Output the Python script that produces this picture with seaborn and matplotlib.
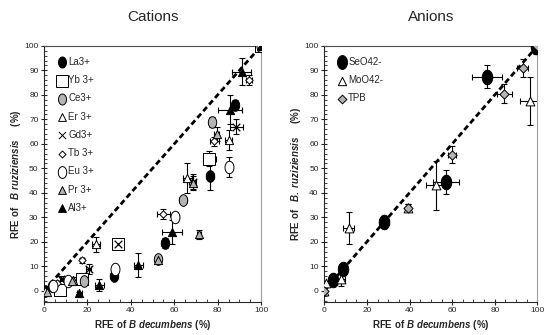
import matplotlib
matplotlib.use("Agg")
import matplotlib.pyplot as plt
import seaborn as sns
import numpy as np
import pandas as pd
from matplotlib.path import Path
from matplotlib.ticker import MultipleLocator

sns.set_style("ticks")
plt.rcParams['font.family'] = ['Liberation Sans', 'DejaVu Sans']
plt.rcParams['mathtext.fontset'] = 'custom'
plt.rcParams['mathtext.it'] = 'Liberation Sans:italic:bold'
plt.rcParams['mathtext.rm'] = 'Liberation Sans:bold'

# ---------------- Cations data ----------------
la_x = [0.5, 32, 55.5, 76.5, 88, 100]
la_y = [0, 6, 19.5, 47, 76, 100]
la_xe = [0, 1.5, 1.5, 2, 1.5, 0.5]
la_ye = [0, 1, 2, 6, 2, 1]

yb_x = [7.5, 17.5, 34, 76, 100]
yb_y = [0.5, 5, 19, 54, 100]
yb_xe = [2, 1, 2, 3, 0.5]
yb_ye = [0.5, 1, 1, 3, 1]

ce_x = [3.5, 18.5, 52.5, 64, 77.5, 100]
ce_y = [2, 4, 13, 37, 69, 100]
ce_xe = [0.5, 1, 1, 2, 1, 0.5]
ce_ye = [0.5, 1, 1, 1, 2, 1]

er_x = [0.5, 13.5, 24, 66, 85, 100]
er_y = [0, 4.5, 19, 46, 61.5, 100]
er_xe = [0.5, 1, 2, 2, 1.5, 0.5]
er_ye = [0.5, 1, 3, 6, 4, 1]

gd_x = [8, 20.5, 34, 68.5, 88.5, 100]
gd_y = [5, 9, 19, 44.5, 67, 100]
gd_xe = [0.5, 1, 1.5, 1.5, 3, 0.5]
gd_ye = [1, 2, 1, 3, 3, 1]

tb_x = [6, 17.5, 55, 78.5, 94.5, 100]
tb_y = [3, 12.5, 31.5, 61, 86, 100]
tb_xe = [0.5, 1, 3, 2, 1.5, 0.5]
tb_ye = [0.5, 1, 2, 2, 2, 1]

eu_x = [4.3, 11, 32.5, 60.5, 85, 100]
eu_y = [2, 4, 9, 30, 50.5, 100]
eu_xe = [0.5, 1, 1, 1.5, 1, 0.5]
eu_ye = [0.5, 1, 1, 2, 4, 1]

pr_x = [1.2, 13, 52.5, 68.5, 71.5, 79.5, 100]
pr_y = [-0.5, 4, 12.5, 44, 23, 64, 100]
pr_xe = [0.5, 1, 1, 1, 1, 1, 0.5]
pr_ye = [0.5, 1, 1, 3, 2, 3, 1]

al_x = [16.3, 25.5, 43.5, 59, 85.5, 91, 100]
al_y = [-1, 2.5, 10.5, 24, 74, 89.5, 100]
al_xe = [1, 2, 2, 4.5, 5.5, 4.5, 0.5]
al_ye = [0.5, 2.5, 5, 5, 6, 5.5, 1]

# ---------------- Anions data ----------------
se_x = [4.2, 9, 28, 57, 76.5, 99.5]
se_y = [4.5, 9, 28, 44.5, 87.5, 99.5]
se_xe = [1, 1.5, 2.5, 6, 7, 2]
se_ye = [1, 1.5, 2.5, 5, 4.5, 3]

mo_x = [0, 0.8, 7.8, 11.5, 39.5, 52.5, 96.5]
mo_y = [0, 3, 5, 25.5, 34, 43, 77.5]
mo_xe = [0.5, 1, 2, 2.5, 0.5, 5, 4.5]
mo_ye = [0.5, 1, 3, 6.5, 1.5, 10, 10]

tpb_x = [0, 39.5, 60, 84.5, 93, 100]
tpb_y = [0, 34, 55.5, 80.5, 91, 100]
tpb_xe = [0.5, 0.5, 2, 3.5, 2.5, 1]
tpb_ye = [0.5, 1.5, 3.5, 4, 3.5, 1]

diag = [0, 100]

# tall ellipse marker (the original figure is vertically stretched)
t = np.linspace(0, 2 * np.pi, 60)
ell = Path(np.column_stack([0.36 * np.cos(t), 0.5 * np.sin(t)]), closed=True)

cations = [
    ("La3+", la_x, la_y, la_xe, la_ye, ell, "black", 70),
    ("Yb 3+", yb_x, yb_y, yb_xe, yb_ye, "s", "white", 80),
    ("Ce3+", ce_x, ce_y, ce_xe, ce_ye, ell, "#b4b4b4", 70),
    ("Er 3+", er_x, er_y, er_xe, er_ye, "^", "white", 35),
    ("Gd3+", gd_x, gd_y, gd_xe, gd_ye, "x", "black", 30),
    ("Tb 3+", tb_x, tb_y, tb_xe, tb_ye, "D", "white", 14),
    ("Eu 3+", eu_x, eu_y, eu_xe, eu_ye, ell, "white", 80),
    ("Pr 3+", pr_x, pr_y, pr_xe, pr_ye, "^", "#b4b4b4", 35),
    ("Al3+", al_x, al_y, al_xe, al_ye, "^", "black", 35),
]
anions = [
    ("SeO42-", se_x, se_y, se_xe, se_ye, ell, "black", 110),
    ("MoO42-", mo_x, mo_y, mo_xe, mo_ye, "^", "white", 40),
    ("TPB", tpb_x, tpb_y, tpb_xe, tpb_ye, "D", "#b4b4b4", 22),
]

fig = plt.figure(figsize=(5.44, 3.35), dpi=100)
axL = fig.add_axes([0.081, 0.099, 0.399, 0.764])
axR = fig.add_axes([0.596, 0.099, 0.392, 0.764])


def draw(ax, series, title, ylab, ylab_x):
    sns.lineplot(x=diag, y=diag, ax=ax, color="black", lw=2.0,
                 linestyle=(0, (2.0, 1.2)), zorder=1)
    handles = []
    for name, xs, ys, xe, ye, mk, fc, s in series:
        ax.errorbar(xs, ys, xerr=xe, yerr=ye, fmt="none", ecolor="black",
                    elinewidth=0.8, capsize=2.5, capthick=0.8, zorder=2)
        df = pd.DataFrame({"x": xs, "y": ys})
        if mk == "x":
            sns.scatterplot(data=df, x="x", y="y", marker="x", s=s,
                            color="black", linewidth=0.9, ax=ax, zorder=3)
        else:
            sns.scatterplot(data=df, x="x", y="y", marker=mk, s=s,
                            color=fc, edgecolor="black", linewidth=0.7,
                            ax=ax, zorder=3)
        h = ax.scatter([], [], marker=mk, s=s * 0.9,
                       c=fc if mk != "x" else "black",
                       edgecolors="black" if mk != "x" else None,
                       linewidths=0.7)
        handles.append((h, name))
    ax.set_xlim(0, 100)
    ax.set_ylim(-4.5, 100)
    ax.xaxis.set_major_locator(MultipleLocator(20))
    ax.xaxis.set_minor_locator(MultipleLocator(5))
    ax.yaxis.set_major_locator(MultipleLocator(10))
    ax.yaxis.set_minor_locator(MultipleLocator(2))
    ax.tick_params(which="major", direction="inout", length=4, width=0.8,
                   labelsize=6, pad=2)
    ax.tick_params(which="minor", direction="in", length=2.5, width=0.6)
    ax.spines["right"].set_color("#a0a0a0")
    ax.spines["top"].set_color("#505050")
    for sp in ax.spines.values():
        sp.set_linewidth(0.8)
    ax.set_title(title, fontsize=11, pad=18)
    ax.set_xlabel(r"RFE of $\it{B\ decumbens}$ (%)", fontsize=7,
                  fontweight="bold")
    ax.xaxis.set_label_coords(0.5, -0.065)
    ax.set_ylabel(ylab, fontsize=7, fontweight="bold")
    ax.yaxis.set_label_coords(ylab_x, 0.5)
    ax.legend([h for h, _ in handles], [n for _, n in handles],
              loc="upper left", bbox_to_anchor=(0.03, 0.98),
              frameon=False, fontsize=7, handletextpad=0.0,
              labelspacing=0.85, borderaxespad=0.2,
              handlelength=1.2)


draw(axL, cations, "Cations",
     r"RFE of   $\it{B\ ruziziensis}$     (%)", -0.095)
draw(axR, anions, "Anions",
     r"RFE of   $\it{B.\ ruziziensis}$     (%)", -0.1)

fig.savefig("out.png", dpi=100)
